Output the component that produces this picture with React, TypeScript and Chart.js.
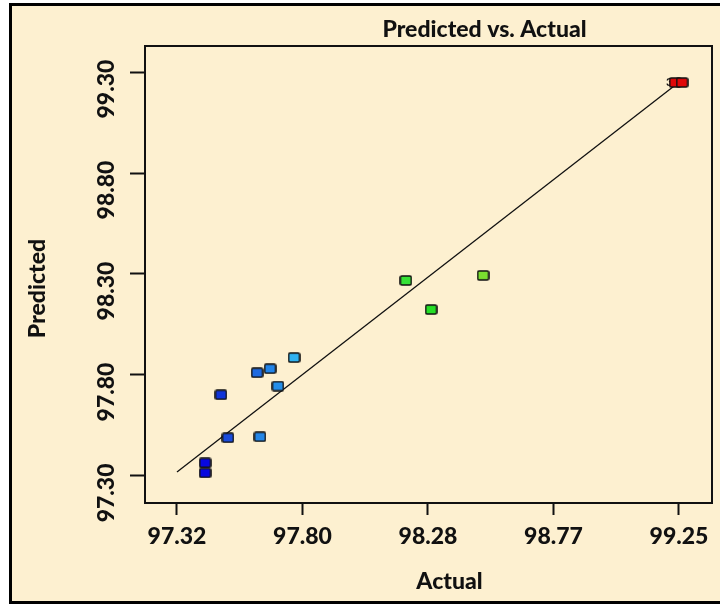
import React, { useEffect, useRef } from "react";
import { Chart, registerables } from "chart.js";

Chart.register(...registerables);

// ---- Data ----
const actualValues = [97.428, 97.428, 97.489, 97.516, 97.639, 97.628, 97.678, 97.708, 97.770, 98.200, 98.297, 98.497, 99.235, 99.262];
const predictedValues = [97.365, 97.315, 97.702, 97.489, 97.494, 97.811, 97.831, 97.745, 97.886, 98.268, 98.124, 98.293, 99.248, 99.248];
const pointColors = ["#0808e0", "#0808e0", "#1034d8", "#1a4cdc", "#2486e6", "#1e6ae0", "#2284e8", "#248ee8", "#30b2f0", "#36e236", "#26de26", "#7ade30", "#e00808", "#e00808"];
const lineActual = [97.32, 99.25];
const linePredicted = [97.32, 99.25];
const xTickValues = [97.32, 97.8025, 98.285, 98.7675, 99.25];
const xTickLabels = ["97.32", "97.80", "98.28", "98.77", "99.25"];
const yTickValues = [97.3, 97.8, 98.3, 98.8, 99.3];
const yTickLabels = ["97.30", "97.80", "98.30", "98.80", "99.30"];
const overlapLabel = "3";
const chartTitle = "Predicted vs. Actual";
const xTitle = "Actual";
const yTitle = "Predicted";

const BG = "#fdf0d0";
const FONT = "Lato";
const WEIGHT = "900";
const INK = "#111111";

function makeMarker(color: string): HTMLCanvasElement {
  const c = document.createElement("canvas");
  c.width = 13;
  c.height = 11;
  const ctx = c.getContext("2d")!;
  ctx.fillStyle = color;
  ctx.strokeStyle = INK;
  ctx.lineWidth = 1.6;
  ctx.beginPath();
  if ((ctx as any).roundRect) (ctx as any).roundRect(1, 1, 11, 9, 1.5);
  else ctx.rect(1, 1, 11, 9);
  ctx.fill();
  ctx.stroke();
  return c;
}

const framePlugin = {
  id: "frameAndTitles",
  beforeDatasetsDraw(chart: any) {
    const { ctx, chartArea: a } = chart;
    ctx.save();
    ctx.strokeStyle = INK;
    ctx.lineWidth = 2;
    ctx.strokeRect(a.left, a.top, a.right - a.left, a.bottom - a.top);
    const xs = chart.scales.x;
    const ys = chart.scales.y;
    ctx.fillStyle = INK;
    ctx.font = `bold 12px ${FONT}`;
    ctx.textAlign = "right";
    ctx.textBaseline = "middle";
    ctx.fillText(overlapLabel, xs.getPixelForValue(actualValues[12]) - 2, ys.getPixelForValue(predictedValues[12]));
    ctx.restore();
  },
  afterDraw(chart: any) {
    const { ctx, chartArea: a } = chart;
    const cx = (a.left + a.right) / 2;
    const cy = (a.top + a.bottom) / 2;
    ctx.save();
    ctx.fillStyle = INK;
    ctx.textAlign = "center";
    ctx.textBaseline = "alphabetic";
    ctx.font = `${WEIGHT} 23px ${FONT}`;
    ctx.fillText(chartTitle, cx + 56, 37);
    ctx.fillText(xTitle, cx + 21, 589);
    ctx.translate(45, cy + 14);
    ctx.rotate(-Math.PI / 2);
    ctx.fillText(yTitle, 0, 0);
    ctx.restore();
  },
};

export default function App() {
  const ref = useRef<HTMLCanvasElement | null>(null);

  useEffect(() => {
    let chart: Chart | null = null;
    let cancelled = false;
    const build = () => {
      if (cancelled || !ref.current) return;
      const markers = pointColors.map(makeMarker);
      chart = new Chart(ref.current, {
        type: "scatter",
        data: {
          datasets: [
            {
              type: "scatter",
              data: actualValues.map((x, i) => ({ x, y: predictedValues[i] })),
              pointStyle: markers as any,
              pointRadius: 6,
              order: 0,
            } as any,
            {
              type: "line",
              data: lineActual.map((x, i) => ({ x, y: linePredicted[i] })),
              borderColor: INK,
              borderWidth: 1.3,
              pointRadius: 0,
              fill: false,
              order: 1,
            } as any,
          ],
        },
        options: {
          animation: false,
          responsive: false,
          layout: { padding: { top: 46, right: 8, left: 0, bottom: 0 } },
          plugins: {
            legend: { display: false },
            tooltip: { enabled: false },
            title: { display: false },
          },
          scales: {
            x: {
              type: "linear",
              min: 97.197,
              max: 99.377,
              afterBuildTicks: (s: any) => {
                s.ticks = xTickValues.map((v) => ({ value: v }));
              },
              afterFit: (s: any) => {
                s.height = 102;
              },
              ticks: {
                callback: (_v: any, i: number) => xTickLabels[i],
                font: { size: 23, weight: WEIGHT, family: FONT },
                color: INK,
                padding: 8,
                autoSkip: false,
                maxRotation: 0,
              },
              grid: { drawOnChartArea: false, drawTicks: true, tickLength: 12, tickColor: INK, tickWidth: 2 },
              border: { display: false },
            },
            y: {
              type: "linear",
              min: 97.166,
              max: 99.429,
              afterBuildTicks: (s: any) => {
                s.ticks = yTickValues.map((v) => ({ value: v }));
              },
              afterFit: (s: any) => {
                s.width = 145;
              },
              ticks: {
                callback: (_v: any, i: number) => yTickLabels[i],
                font: { size: 23, weight: WEIGHT, family: FONT },
                color: INK,
                padding: -6,
                minRotation: 90,
                maxRotation: 90,
                crossAlign: "center",
                labelOffset: 17,
                autoSkip: false,
              },
              grid: { drawOnChartArea: false, drawTicks: true, tickLength: 15, tickColor: INK, tickWidth: 2 },
              border: { display: false },
            },
          },
        },
        plugins: [framePlugin],
      } as any);
    };
    const fonts: any = (document as any).fonts;
    if (fonts && fonts.load) {
      Promise.all([fonts.load(`${WEIGHT} 23px ${FONT}`), fonts.load(`bold 12px ${FONT}`)]).then(build, build);
    } else build();
    return () => {
      cancelled = true;
      if (chart) chart.destroy();
    };
  }, []);

  return (
    <div style={{ position: "fixed", left: 0, top: 0, width: 720, height: 605, overflow: "hidden", background: "#ffffff" }}>
      <div
        style={{
          position: "absolute",
          left: 9,
          top: 3,
          width: 720,
          height: 601,
          boxSizing: "border-box",
          border: "3px solid #000",
          background: BG,
        }}
      />
      <canvas ref={ref} width={720} height={605} style={{ position: "absolute", left: 0, top: 0, display: "block" }} />
    </div>
  );
}
